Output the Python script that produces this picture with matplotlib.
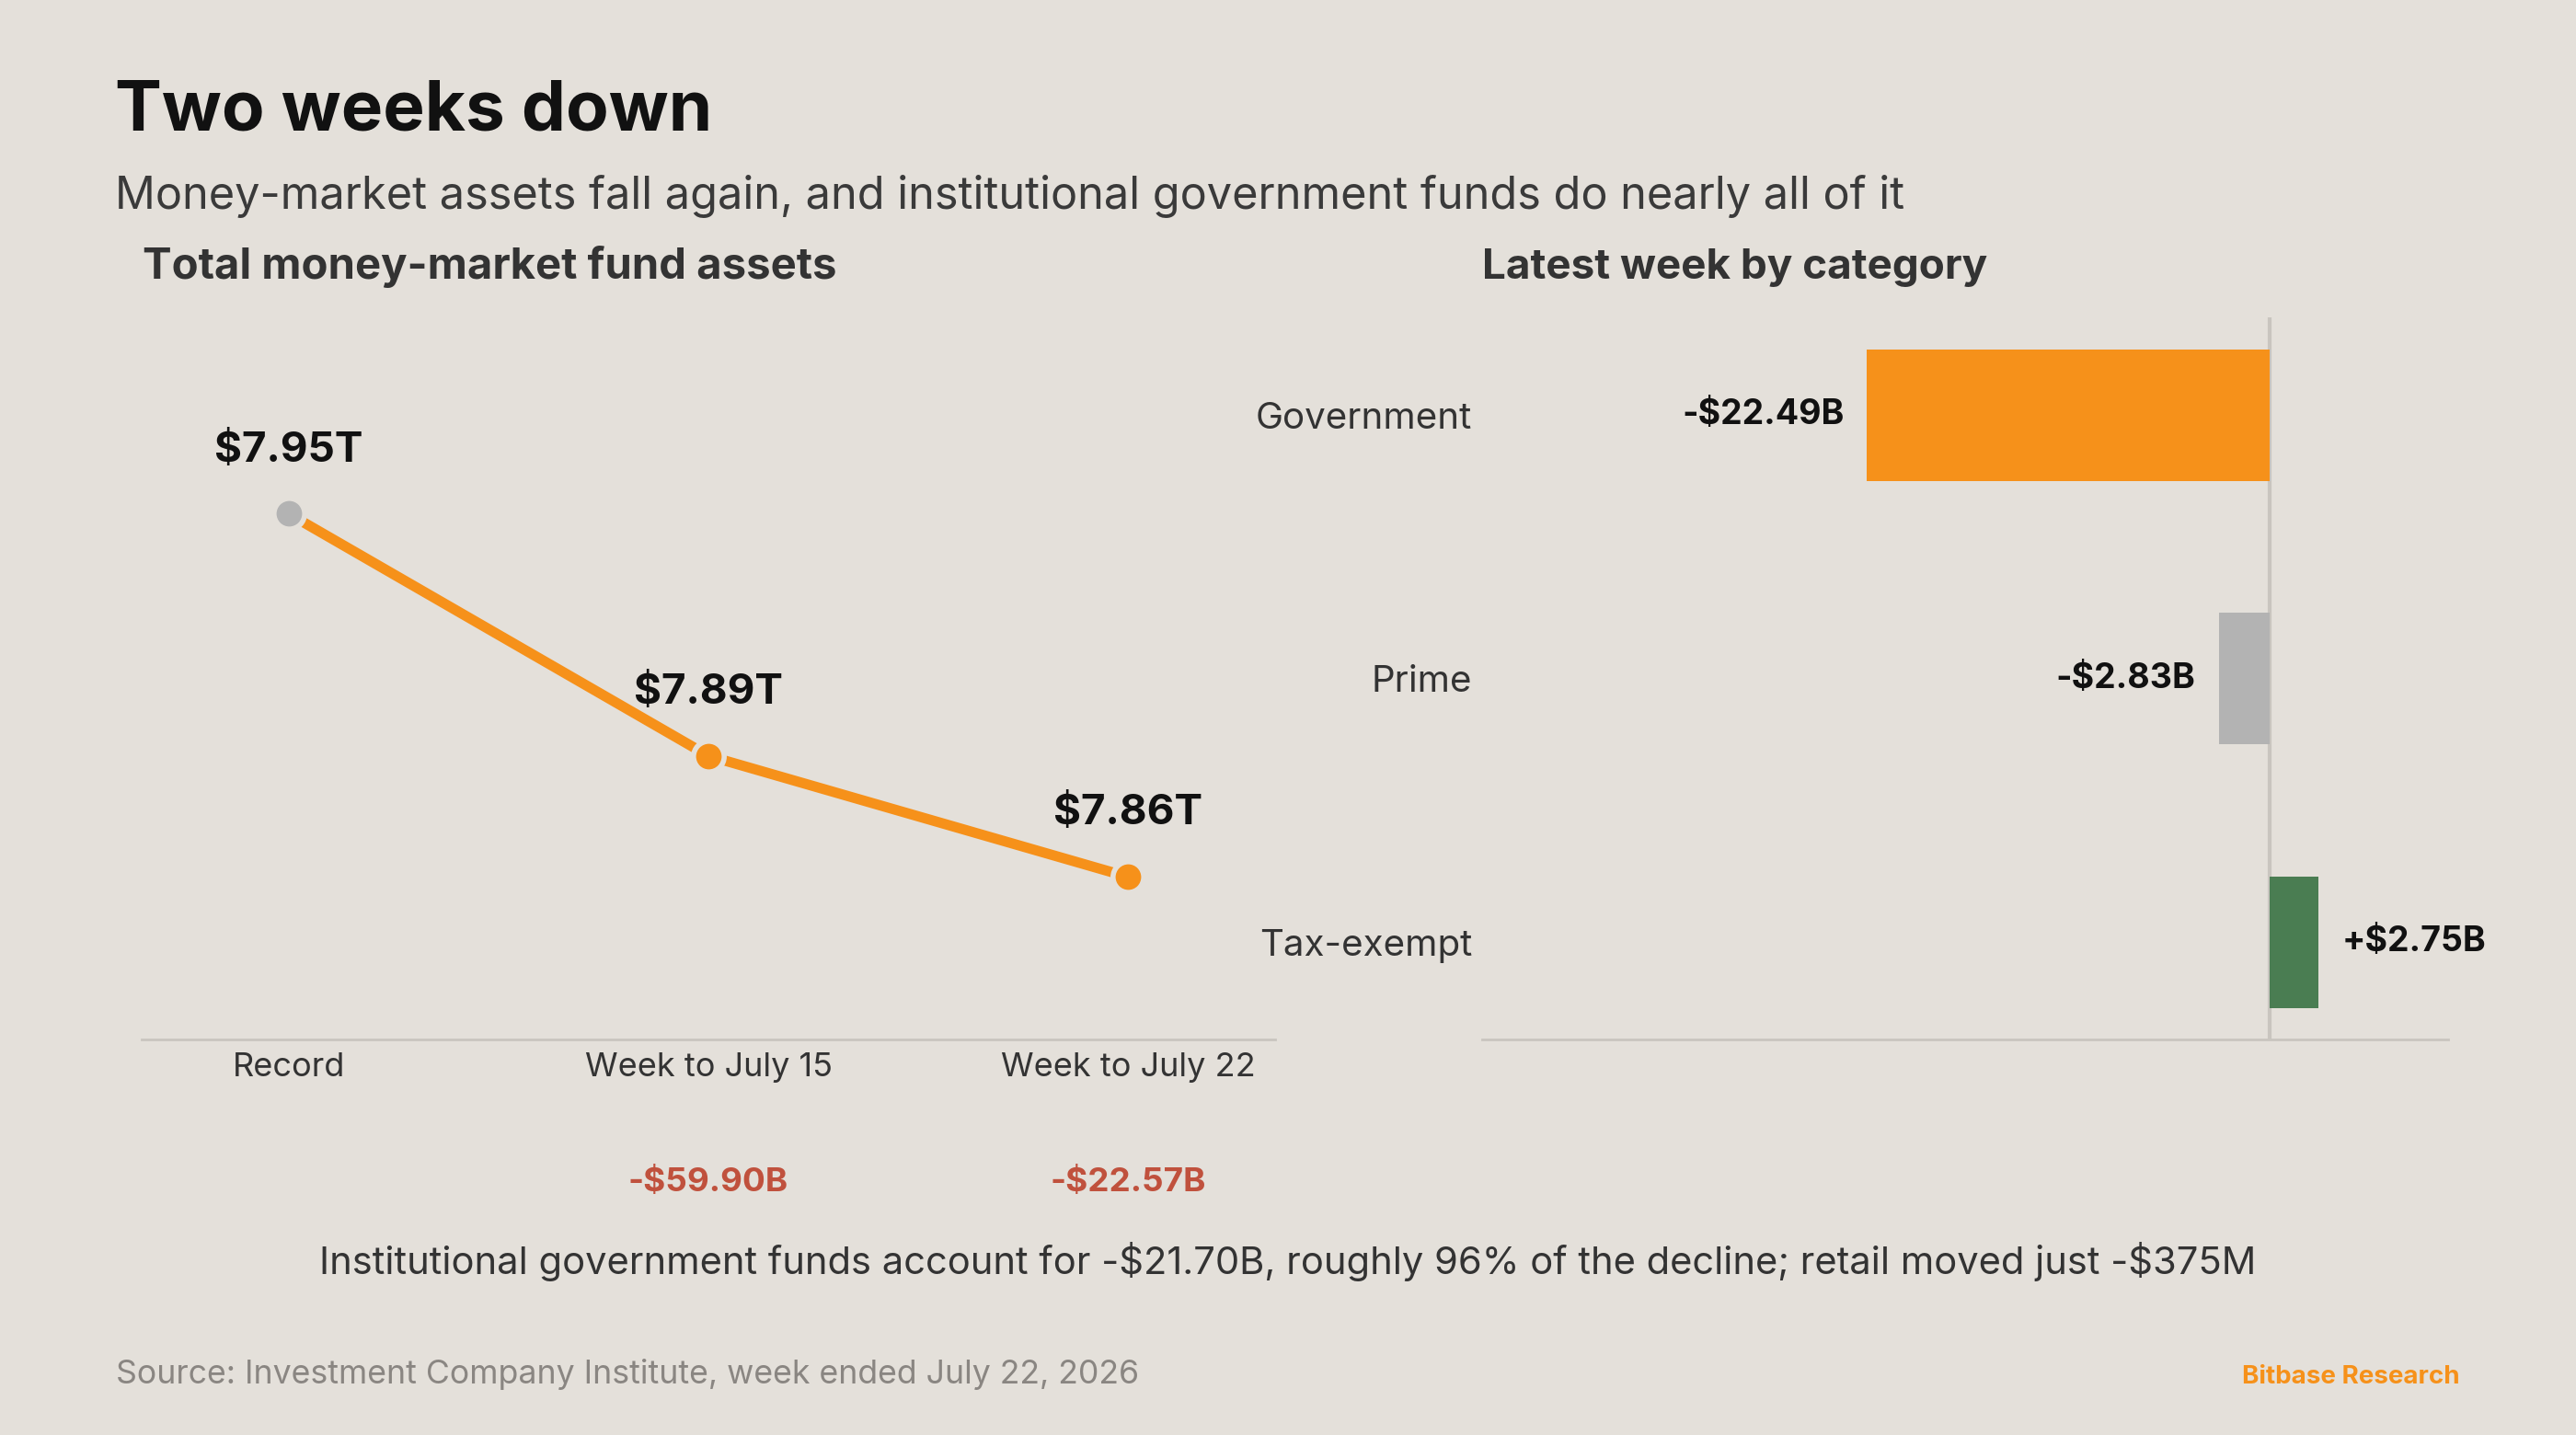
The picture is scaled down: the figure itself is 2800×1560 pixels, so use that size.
"""
Money-market fund assets: two-panel chart (total assets line + latest week by category).
"""
import matplotlib
matplotlib.use('Agg')
import matplotlib.pyplot as plt

plt.rcParams['font.family'] = ['Inter', 'DejaVu Sans']
plt.rcParams['text.parse_math'] = False

BG = '#E4E0DA'
COLORS = {
    'orange': '#F6911A',
    'grey': '#B3B3B3',
    'green': '#4A7D52',
    'red': '#C0513D',
    'dark': '#111111',
    'text': '#333333',
    'muted': '#8A8682',
    'rule': '#C9C5BF',
}

# --- data -------------------------------------------------------------
periods = ['Record', 'Week to July 15', 'Week to July 22']
assets_t = [7.95, 7.89, 7.86]
asset_labels = ['$7.95T', '$7.89T', '$7.86T']
change_labels = ['', '-$59.90B', '-$22.57B']

categories = ['Government', 'Prime', 'Tax-exempt']
weekly_change_b = [-22.49, -2.83, 2.75]
category_labels = ['-$22.49B', '-$2.83B', '+$2.75B']

fig = plt.figure(figsize=(28, 15.6), dpi=100, facecolor=BG)

# --- header -----------------------------------------------------------
fig.text(0.0446, 0.9092, 'Two weeks down', fontsize=55, fontweight='bold',
         color=COLORS['dark'], va='baseline')
fig.text(0.0446, 0.8545, 'Money-market assets fall again, and institutional government '
         'funds do nearly all of it', fontsize=35, color='#3A3A3A', va='baseline')
fig.text(0.0554, 0.806, 'Total money-market fund assets', fontsize=34,
         fontweight='bold', color=COLORS['text'], va='baseline')
fig.text(0.5754, 0.806, 'Latest week by category', fontsize=33,
         fontweight='bold', color=COLORS['text'], va='baseline')

# --- left: total assets line -----------------------------------------
ax1 = fig.add_axes([0.055, 0.2756, 0.44, 0.507])
ax1.set_facecolor(BG)
x = list(range(len(periods)))
ax1.plot(x, assets_t, color=COLORS['orange'], linewidth=8, solid_capstyle='butt', zorder=2)
point_colors = [COLORS['grey']] + [COLORS['orange']] * (len(x) - 1)
for xi, yi, c in zip(x, assets_t, point_colors):
    ax1.plot(xi, yi, 'o', markersize=24, markerfacecolor=c,
             markeredgecolor=BG, markeredgewidth=4, zorder=3)
for xi, yi, lab in zip(x, assets_t, asset_labels):
    ax1.annotate(lab, (xi, yi), xytext=(0, 41), textcoords='offset points',
                 ha='center', va='baseline', fontsize=33, fontweight='bold',
                 color=COLORS['dark'])
for xi, lab in zip(x, change_labels):
    if lab:
        ax1.text(xi, -0.2086, lab, transform=ax1.get_xaxis_transform(),
                 ha='center', va='baseline', fontsize=26.5, fontweight='bold',
                 color=COLORS['red'])

ax1.set_xlim(-0.35, 2.35)
ax1.set_ylim(7.8197, 8.0)
ax1.set_xticks(x)
ax1.set_xticklabels(periods, fontsize=26, color=COLORS['text'])
ax1.tick_params(axis='x', length=0, pad=10)
ax1.set_yticks([])
for side in ['top', 'left', 'right']:
    ax1.spines[side].set_visible(False)
ax1.spines['bottom'].set_color(COLORS['rule'])
ax1.spines['bottom'].set_linewidth(2)

# --- right: latest week by category ----------------------------------
ax2 = fig.add_axes([0.5754, 0.2756, 0.375, 0.503])
ax2.set_facecolor(BG)
bar_colors = [COLORS['orange'], COLORS['grey'], COLORS['green']]
y = list(range(len(categories)))
ax2.barh(y, weekly_change_b, height=0.5, color=bar_colors, zorder=2)
ax2.axvline(0, color=COLORS['rule'], linewidth=3, zorder=1)
for yi, v, lab in zip(y, weekly_change_b, category_labels):
    off = 18 if v > 0 else -18
    ax2.annotate(lab, (v, yi), xytext=(off, 0), textcoords='offset points',
                 ha='left' if v > 0 else 'right', va='center', fontsize=27,
                 fontweight='bold', color=COLORS['dark'])

ax2.set_xlim(-44, 10)
ax2.set_ylim(2.37, -0.37)
ax2.set_yticks(y)
ax2.set_yticklabels(categories, fontsize=29, color=COLORS['text'])
ax2.tick_params(axis='y', length=0, pad=8)
ax2.set_xticks([])
for side in ['top', 'left', 'right']:
    ax2.spines[side].set_visible(False)
ax2.spines['bottom'].set_color(COLORS['rule'])
ax2.spines['bottom'].set_linewidth(2)

# --- footer -----------------------------------------------------------
fig.text(0.5, 0.1122, 'Institutional government funds account for -$21.70B, roughly 96% '
         'of the decline; retail moved just -$375M', fontsize=30, color=COLORS['text'],
         ha='center', va='baseline')
fig.text(0.045, 0.0359, 'Source: Investment Company Institute, week ended July 22, 2026',
         fontsize=25.7, color=COLORS['muted'], va='baseline')
fig.text(0.955, 0.0359, 'Bitbase Research', fontsize=20, fontweight='bold',
         color=COLORS['orange'], ha='right', va='baseline')

fig.savefig('out.png', dpi=100, facecolor=BG)
